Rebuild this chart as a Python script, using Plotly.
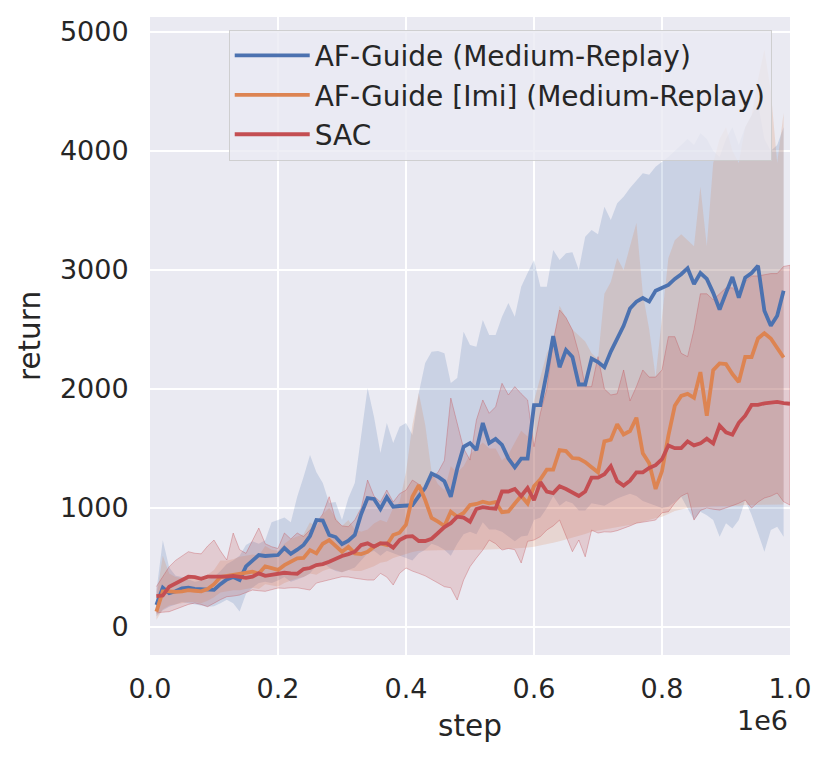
import plotly.graph_objects as go

# training steps (every 10k), SAC runs one point longer
steps = list(range(10000, 1000001, 10000))

names = ["AF-Guide (Medium-Replay)", "AF-Guide [Imi] (Medium-Replay)", "SAC"]
colors = ["#4C72B0", "#DD8452", "#C44E52"]
band_colors = ["rgba(76,114,176,0.2)", "rgba(221,132,82,0.2)", "rgba(196,78,82,0.2)"]

af_mean = [185, 330, 285, 300, 325, 330, 320, 318, 315, 312,
           360, 400, 420, 395, 510, 555, 605, 597, 600, 605,
           664, 615, 650, 690, 765, 900, 895, 773, 756, 697,
           725, 773, 950, 1084, 1076, 992, 1092, 1011, 1017, 1020,
           1025, 1100, 1170, 1290, 1263, 1225, 1095, 1330, 1515, 1546,
           1487, 1714, 1545, 1580, 1531, 1415, 1342, 1415, 1415, 1864,
           1864, 2140, 2444, 2183, 2328, 2270, 2038, 2038, 2256, 2227,
           2183, 2314, 2430, 2531, 2676, 2734, 2765, 2735, 2825, 2848,
           2875, 2925, 2965, 3015, 2882, 2975, 2925, 2808, 2668, 2808,
           2941, 2768, 2935, 2975, 3035, 2658, 2532, 2615, 2825]
af_upper = [300, 730, 500, 430, 420, 400, 380, 390, 400, 420,
            470, 530, 560, 600, 690, 720, 700, 730, 880, 900,
            920, 880, 1095, 1263, 1445, 1300, 1210, 1042, 1050, 899,
            1084, 1210, 1599, 2008, 1767, 1462, 1714, 1546, 1683, 1714,
            1613, 1966, 2218, 2314, 2320, 2300, 2050, 2092, 2482, 2370,
            2355, 2580, 2454, 2454, 2608, 2723, 2608, 2860, 2975, 3084,
            2860, 2860, 3168, 3084, 3140, 3150, 3000, 3280, 3336, 3300,
            3532, 3420, 3560, 3616, 3690, 3756, 3813, 3800, 3868, 3910,
            3950, 4000, 4050, 4100, 4050, 4150, 4100, 4000, 3950, 4100,
            4200, 4050, 4200, 4300, 4400, 4100, 4000, 4050, 4200]
af_lower = [90, 140, 170, 190, 210, 200, 190, 180, 170, 175,
            200, 230, 200, 130, 280, 330, 370, 380, 370, 390,
            420, 380, 400, 420, 450, 520, 540, 500, 470, 460,
            480, 500, 560, 620, 640, 600, 640, 620, 600, 580,
            560, 620, 650, 700, 680, 650, 600, 700, 780, 800,
            780, 880, 820, 820, 800, 760, 720, 760, 770, 900,
            920, 1000, 1100, 1020, 1060, 1040, 980, 980, 1040, 1030,
            1020, 1050, 1080, 1100, 1120, 1100, 1060, 1040, 1020, 1000,
            1011, 1050, 1095, 1000, 899, 969, 940, 899, 759, 873,
            829, 899, 1067, 941, 790, 633, 815, 843, 759]

imi_mean = [130, 300, 300, 295, 300, 310, 305, 300, 320, 360,
            420, 430, 435, 445, 456, 465, 450, 510, 495, 480,
            520, 550, 577, 580, 647, 619, 700, 731, 681, 633,
            675, 619, 613, 633, 675, 703, 689, 773, 793, 860,
            1095, 1193, 1067, 916, 885, 849, 969, 927, 958, 1025,
            1034, 1053, 1040, 1050, 965, 971, 1038, 1101, 1038, 1183,
            1241, 1322, 1322, 1487, 1478, 1420, 1415, 1386, 1342, 1300,
            1560, 1574, 1705, 1618, 1647, 1759, 1460, 1376, 1160, 1310,
            1609, 1859, 1942, 1959, 1926, 2142, 1776, 2159, 2215, 2209,
            2126, 2059, 2269, 2269, 2425, 2469, 2425, 2342, 2265]
imi_upper = [250, 600, 450, 420, 410, 430, 420, 410, 440, 480,
             560, 560, 570, 590, 600, 610, 600, 680, 650, 640,
             700, 740, 760, 780, 880, 840, 950, 1000, 920, 850,
             900, 820, 800, 820, 870, 900, 880, 1000, 1050, 1300,
             1700, 1966, 1700, 1300, 1200, 1150, 1350, 1300, 1350, 1450,
             1500, 1550, 1500, 1500, 1400, 1450, 1550, 1650, 1600, 1900,
             2100, 2300, 2400, 2700, 2600, 2500, 2450, 2400, 2300, 2250,
             2800, 2900, 3100, 3000, 3200, 3395, 2800, 2500, 2100, 2600,
             3100, 3250, 3300, 3250, 3200, 3700, 3200, 3900, 4100, 4200,
             4000, 3900, 4200, 4300, 4600, 4850, 4500, 3900, 4320]
imi_lower = [60, 150, 180, 190, 200, 210, 210, 200, 220, 250,
             290, 300, 310, 310, 320, 330, 320, 360, 350, 340,
             370, 390, 410, 420, 450, 440, 470, 490, 480, 460,
             480, 470, 470, 490, 510, 540, 550, 580, 600, 615,
             630, 640, 645, 645, 645, 645, 645, 645, 647, 648,
             650, 650, 652, 655, 655, 658, 660, 662, 668, 675,
             685, 695, 708, 720, 731, 748, 765, 782, 800, 815,
             823, 832, 840, 849, 857, 870, 885, 900, 915, 927,
             950, 975, 990, 1000, 1005, 1010, 1010, 1015, 1015, 1020,
             1020, 1020, 1025, 1025, 1030, 1030, 1030, 1030, 1030]

sac_mean = [260, 265, 339, 370, 395, 423, 420, 405, 423, 423,
            420, 423, 429, 423, 414, 423, 451, 430, 437, 451,
            456, 451, 448, 487, 496, 521, 529, 549, 577, 597,
            613, 633, 689, 703, 675, 703, 703, 667, 731, 759,
            764, 723, 723, 742, 790, 840, 873, 927, 919, 885,
            992, 1008, 1000, 994, 1139, 1139, 1160, 1101, 1168, 1067,
            1218, 1139, 1125, 1183, 1160, 1130, 1101, 1139, 1255, 1255,
            1284, 1351, 1226, 1189, 1230, 1300, 1300, 1336, 1360, 1410,
            1526, 1503, 1503, 1559, 1526, 1543, 1583, 1543, 1693, 1636,
            1616, 1716, 1776, 1866, 1866, 1880, 1886, 1892, 1882, 1876]
sac_upper = [340, 420, 507, 560, 600, 633, 620, 615, 680, 731,
             640, 563, 790, 650, 619, 731, 832, 700, 675, 660,
             790, 740, 790, 760, 815, 873, 950, 1095, 900, 850,
             843, 900, 1000, 1235, 1100, 1050, 1151, 1050, 1120, 1150,
             1235, 1200, 1150, 1250, 1300, 1400, 1924, 1700, 1500, 1403,
             1739, 1908, 1796, 1850, 2048, 1950, 2020, 1960, 1908, 1515,
             1800, 2000, 2400, 2664, 2600, 2496, 2300, 2020, 2020, 2272,
             2000, 1950, 1960, 2160, 1900, 2020, 2160, 2100, 2100, 2160,
             2440, 2440, 2300, 2272, 2500, 2800, 2800, 2750, 2800, 2850,
             2850, 2800, 2900, 2950, 2950, 2960, 2970, 2970, 3030, 3040]
sac_lower = [118, 125, 129, 150, 171, 190, 202, 190, 171, 200,
             230, 255, 260, 269, 290, 311, 305, 300, 315, 328,
             325, 330, 330, 320, 311, 370, 380, 395, 410, 423,
             420, 410, 400, 395, 395, 451, 420, 353, 451, 496,
             470, 451, 430, 400, 370, 339, 330, 227, 395, 507,
             580, 647, 731, 700, 647, 660, 650, 538, 720, 731,
             760, 815, 850, 899, 760, 633, 731, 590, 815, 790,
             800, 798, 810, 830, 850, 873, 880, 890, 899, 960,
             969, 1042, 1100, 1126, 899, 980, 1000, 990, 983, 1000,
             1020, 1040, 1067, 1000, 1050, 1084, 1100, 1126, 1053, 1025]

x_tickvals = [0, 200000, 400000, 600000, 800000, 1000000]
x_ticktext = ["0.0", "0.2", "0.4", "0.6", "0.8", "1.0"]
y_tickvals = [0, 1000, 2000, 3000, 4000, 5000]

series = [
    (af_mean, af_lower, af_upper),
    (imi_mean, imi_lower, imi_upper),
    (sac_mean, sac_lower, sac_upper),
]

fig = go.Figure()

# confidence bands first, lines on top
for i, (mean, lower, upper) in enumerate(series):
    xs = steps[:len(mean)]
    edge = "rgba(196,78,82,0.35)" if i == 2 else "rgba(0,0,0,0)"
    fig.add_trace(go.Scatter(
        x=xs + xs[::-1],
        y=upper + lower[::-1],
        fill="toself",
        fillcolor=band_colors[i],
        line=dict(color=edge, width=1),
        mode="lines",
        showlegend=False,
        hoverinfo="skip",
    ))

for i, (mean, lower, upper) in enumerate(series):
    fig.add_trace(go.Scatter(
        x=steps[:len(mean)],
        y=mean,
        mode="lines",
        name=names[i],
        line=dict(color=colors[i], width=3.8),
    ))

# page body adds an 8px offset, so the figure is shrunk by that much
fig.update_layout(
    width=822,
    height=752,
    margin=dict(l=142, r=40, t=9, b=105),
    paper_bgcolor="white",
    plot_bgcolor="#EAEAF2",
    font=dict(family="DejaVu Sans", size=27, color="#262626"),
    showlegend=True,
    legend=dict(
        x=0.123, y=0.98, xanchor="left", yanchor="top",
        bgcolor="rgba(234,234,242,0.8)",
        bordercolor="rgba(204,204,204,0.9)",
        borderwidth=1,
        font=dict(size=28),
        itemwidth=75,
    ),
)

fig.update_xaxes(
    range=[0, 1000000],
    tickvals=x_tickvals,
    ticktext=x_ticktext,
    gridcolor="white",
    gridwidth=2,
    zeroline=False,
    showline=False,
    ticks="outside",
    ticklen=10,
    tickcolor="rgba(0,0,0,0)",
    title=dict(text="step", font=dict(size=29.5), standoff=11),
)
fig.update_yaxes(
    range=[-235, 5126],
    tickvals=y_tickvals,
    gridcolor="white",
    gridwidth=2,
    zeroline=False,
    showline=False,
    ticks="outside",
    ticklen=15,
    tickcolor="rgba(0,0,0,0)",
    title=dict(text="return", font=dict(size=29.5), standoff=10),
)

fig.add_annotation(
    text="1e6", x=1, y=-0.102, xref="paper", yref="paper",
    xanchor="right", yanchor="middle", showarrow=False,
    font=dict(size=27),
)

fig.write_html("out.html")
